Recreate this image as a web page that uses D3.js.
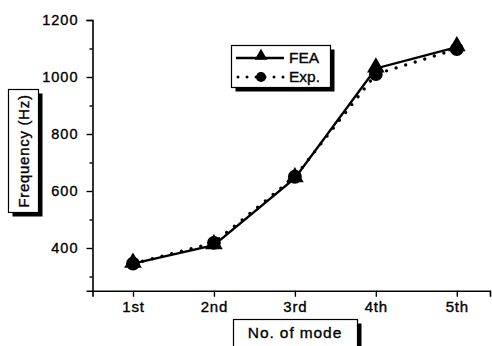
<!DOCTYPE html>
<html>
<head>
<meta charset="utf-8">
<script src="https://cdn.jsdelivr.net/npm/d3@7"></script>
<style>
  body { margin: 0; background: #fff; }
  text { font-family: "Liberation Sans", Arial, sans-serif; fill: #000; stroke: #000; stroke-width: 0.35px; }
</style>
</head>
<body>
<div id="chart"></div>
<script>
const modes = ['1st', '2nd', '3rd', '4th', '5th'];
const feaValues = [345, 410, 645, 1030, 1105];
const expValues = [345, 418, 650, 1010, 1098];
const yTicks = [400, 600, 800, 1000, 1200];
const yMinor = [300, 500, 700, 900, 1100];

const width = 492, height = 346;

const svg = d3.select('#chart')
  .append('svg')
  .attr('width', width)
  .attr('height', height);

const x = d3.scaleLinear().domain([0.5, 5.41]).range([92.5, 490]);
const y = d3.scaleLinear().domain([250, 1200]).range([290.75, 20]);

// axes
const gx = svg.append('g')
  .attr('transform', `translate(0, ${y(250)})`)
  .call(d3.axisBottom(x).tickValues([1, 2, 3, 4, 5]).tickSizeOuter(0).tickSize(6).tickPadding(5)
    .tickFormat((d) => modes[d - 1]));

const gy = svg.append('g')
  .attr('transform', `translate(${x(0.5)}, 0)`)
  .call(d3.axisLeft(y).tickValues(yTicks).tickSizeOuter(0).tickSize(6).tickPadding(8)
    .tickFormat(d3.format('d')));

svg.append('g')
  .attr('transform', `translate(${x(0.5)}, 0)`)
  .call(d3.axisLeft(y).tickValues(yMinor).tickSize(3).tickFormat(''))
  .select('.domain').remove();

svg.selectAll('.domain').attr('stroke-width', 1.6);
svg.selectAll('.tick line').attr('stroke-width', 1.4);
gx.selectAll('text').style('font-size', '15px').attr('letter-spacing', '0.8px');
gy.selectAll('text').style('font-size', '14.5px').attr('letter-spacing', '1px');

// lines
const line = (vals) => d3.line()
  .x((d, i) => x(i + 1))
  .y((d) => y(d))(vals);

svg.append('path')
  .attr('d', line(expValues))
  .attr('fill', 'none')
  .attr('stroke', '#000')
  .attr('stroke-width', 3.4)
  .attr('stroke-linecap', 'round')
  .attr('stroke-dasharray', '0,10');

svg.append('path')
  .attr('d', line(feaValues))
  .attr('fill', 'none')
  .attr('stroke', '#000')
  .attr('stroke-width', 2.4);

const tri = d3.symbol().type(d3.symbolTriangle).size(135);
const circ = d3.symbol().type(d3.symbolCircle).size(150);

svg.selectAll('path.exp')
  .data(expValues)
  .join('path')
  .attr('class', 'exp')
  .attr('d', circ)
  .attr('transform', (d, i) => `translate(${x(i + 1)}, ${y(d)})`)
  .attr('fill', '#000');

svg.selectAll('path.fea')
  .data(feaValues)
  .join('path')
  .attr('class', 'fea')
  .attr('d', tri)
  .attr('transform', (d, i) => `translate(${x(i + 1)}, ${y(d) - 1})`)
  .attr('fill', '#000');

// boxes with shadows
const box = (bx, by, bw, bh) => {
  svg.append('rect').attr('x', bx + 4).attr('y', by + 4).attr('width', bw).attr('height', bh).attr('fill', '#000');
  svg.append('rect').attr('x', bx).attr('y', by).attr('width', bw).attr('height', bh)
    .attr('fill', '#fff').attr('stroke', '#000').attr('stroke-width', 1.2);
};

// y label
box(8.5, 89.5, 30, 123);
svg.append('text')
  .attr('transform', 'translate(29, 151) rotate(-90)')
  .attr('text-anchor', 'middle')
  .style('font-size', '15px')
  .attr('letter-spacing', '0.7px')
  .text('Frequency (Hz)');

// x label
box(233.5, 319.5, 124, 30);
svg.append('text')
  .attr('x', 295)
  .attr('y', 338)
  .attr('text-anchor', 'middle')
  .style('font-size', '15.5px')
  .attr('letter-spacing', '0.9px')
  .text('No. of  mode');

// legend
box(231.5, 45.5, 99, 42);
const leg = svg.append('g');
leg.append('line').attr('x1', 236).attr('x2', 284).attr('y1', 58).attr('y2', 58)
  .attr('stroke', '#000').attr('stroke-width', 2.4);
leg.append('path').attr('d', d3.symbol().type(d3.symbolTriangle).size(70))
  .attr('transform', 'translate(261, 56)');
leg.append('line').attr('x1', 238).attr('x2', 284).attr('y1', 77).attr('y2', 77)
  .attr('stroke', '#000').attr('stroke-width', 3).attr('stroke-linecap', 'round')
  .attr('stroke-dasharray', '0,9');
leg.append('path').attr('d', d3.symbol().type(d3.symbolCircle).size(80))
  .attr('transform', 'translate(261, 77)');
leg.append('text').attr('x', 289).attr('y', 63).style('font-size', '15.5px').text('FEA');
leg.append('text').attr('x', 289).attr('y', 82).style('font-size', '15.5px').text('Exp.');
</script>
</body>
</html>
